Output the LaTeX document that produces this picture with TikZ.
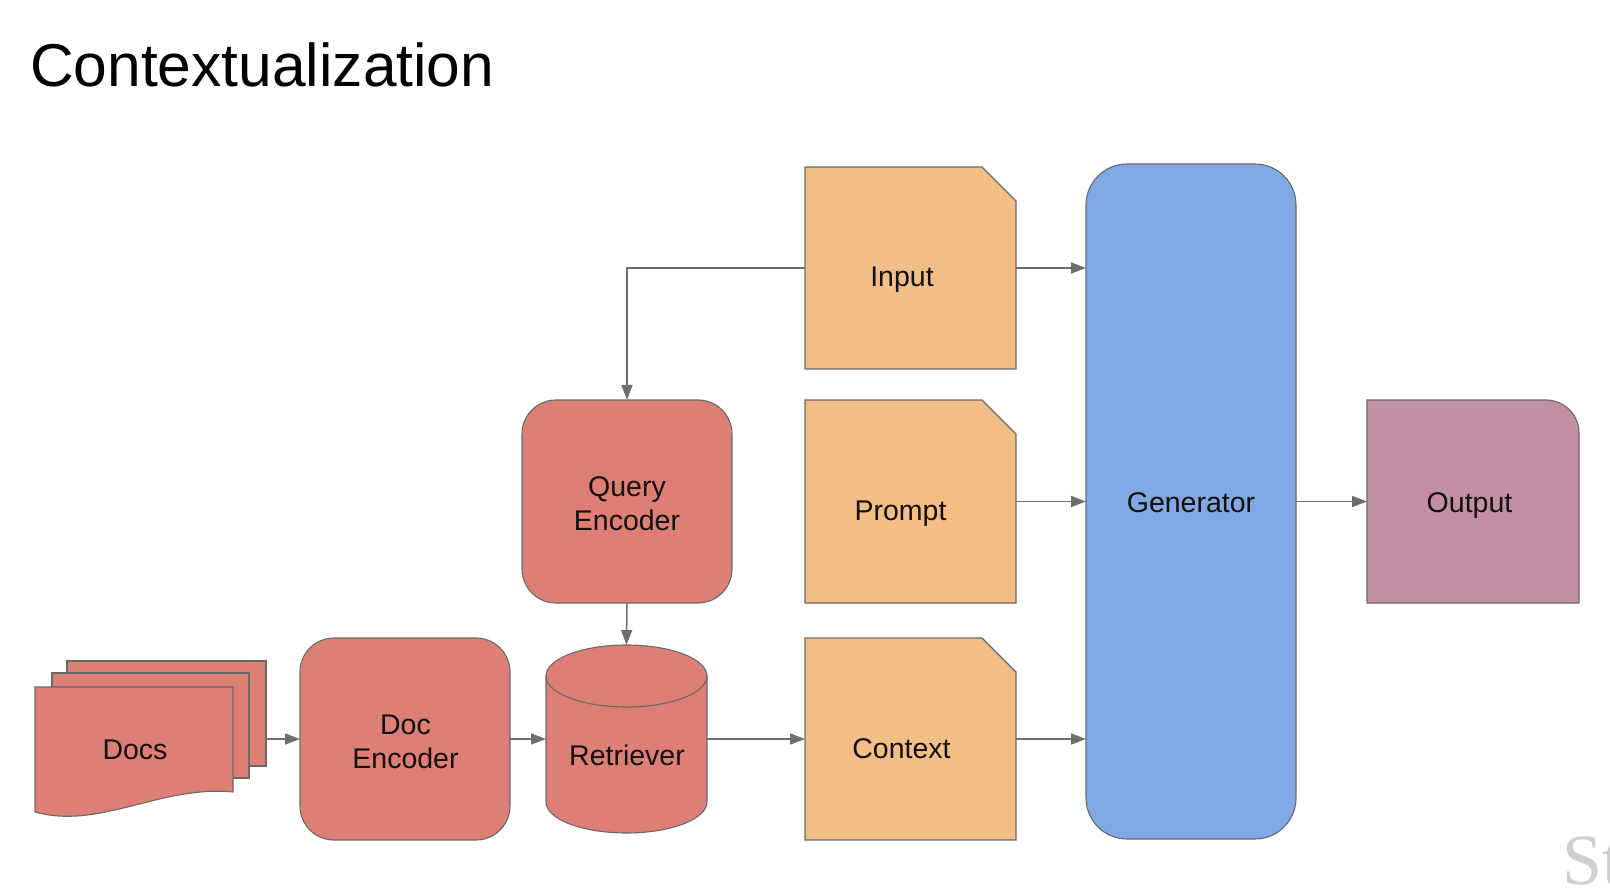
\documentclass[tikz,border=0pt]{standalone}
\usepackage{fontspec}
\setmainfont{Liberation Sans}
\newfontfamily\serifwm{Liberation Serif}
\usetikzlibrary{arrows.meta}
\definecolor{redfill}{HTML}{DD7F74}
\definecolor{orangefill}{HTML}{F3BE86}
\definecolor{bluefill}{HTML}{7FA8E4}
\definecolor{mauvefill}{HTML}{C38FA4}
\definecolor{bordergray}{HTML}{6A6A6A}
\definecolor{arrowgray}{HTML}{6E6E6E}
\definecolor{txt}{HTML}{141010}
\definecolor{wm}{HTML}{CFCFCF}
\begin{document}
\begin{tikzpicture}[x=1pt,y=-1pt,
  geo/.style={inner sep=0pt, outer sep=0pt, draw=none},
  outline/.style={draw=bordergray, line width=1.1pt},
  lbl/.style={font=\fontsize{28.5}{34}\selectfont, text=txt, inner sep=0pt, anchor=base},
  lbltwo/.style={font=\fontsize{28.5}{34}\selectfont, text=txt, inner sep=0pt, anchor=center, align=center},
  arr/.style={draw=arrowgray, line width=1.5pt, -{Triangle[length=15pt,width=11pt]}}
]
\useasboundingbox (0,0) rectangle (1610,890);
\fill[white] (0,0) rectangle (1610,890);

% title
\node[anchor=base west, inner sep=0pt, text=black, font=\fontsize{60.5}{72}\selectfont] (title) at (30,87) {Contextualization};

% geometry nodes
\node[geo, minimum width=211pt, minimum height=202pt] (inp) at (910.5,268) {};
\node[geo, minimum width=211pt, minimum height=203pt] (prm) at (910.5,501.5) {};
\node[geo, minimum width=211pt, minimum height=202pt] (ctx) at (910.5,739) {};
\node[geo, minimum width=210pt, minimum height=675pt] (gen) at (1191,501.5) {};
\node[geo, minimum width=212pt, minimum height=203pt] (out) at (1473,501.5) {};
\node[geo, minimum width=210pt, minimum height=203pt] (qenc) at (627,501.5) {};
\node[geo, minimum width=210pt, minimum height=202pt] (denc) at (405,739) {};
\node[geo, minimum width=161pt, minimum height=188pt] (ret) at (626.5,739) {};
\node[geo, minimum width=199pt, minimum height=105pt] (dback) at (166.5,713.5) {};
\node[geo, minimum width=197pt, minimum height=105pt] (dmid) at (150.5,725.5) {};
\node[geo, minimum width=198pt, minimum height=125pt] (dfront) at (134,749.5) {};

% document shapes with cut corner
\foreach \n in {inp,prm,ctx}{
  \path[outline, fill=orangefill] (\n.south west) -- (\n.north west) -- ([xshift=-34pt]\n.north east) -- ([yshift=-34pt]\n.north east) -- (\n.south east) -- cycle;
}
% generator
\path[outline, fill=bluefill, rounded corners=41pt] (gen.south west) rectangle (gen.north east);
% output
\path[outline, fill=mauvefill] (out.south west) -- (out.north west) -- ([xshift=-33pt]out.north east) arc[start angle=90, end angle=0, radius=33pt] -- (out.south east) -- cycle;
% encoders
\path[outline, fill=redfill, rounded corners=34pt] (qenc.south west) rectangle (qenc.north east);
\path[outline, fill=redfill, rounded corners=34pt] (denc.south west) rectangle (denc.north east);
% retriever cylinder
\path[outline, fill=redfill] ([yshift=-31pt]ret.north west) -- ([yshift=31pt]ret.south west) arc[start angle=180, end angle=360, x radius=80.5pt, y radius=31pt] -- ([yshift=-31pt]ret.north east) arc[start angle=0, end angle=180, x radius=80.5pt, y radius=31pt] -- cycle;
\draw[outline] ([yshift=-31pt]ret.north west) arc[start angle=180, end angle=360, x radius=80.5pt, y radius=31pt];
% docs stack
\path[outline, fill=redfill] (dback.south west) rectangle (dback.north east);
\path[outline, fill=redfill] (dmid.south west) rectangle (dmid.north east);
\path[outline, fill=redfill] (dfront.south west) -- (dfront.north west) -- (dfront.north east) -- ([yshift=20pt]dfront.south east) .. controls (160,785) and (100,830) .. (dfront.south west) -- cycle;

% labels
\node[lbl] (inp-t) at (902,287) {Input};
\node[lbl] (prm-t) at (900.5,520) {Prompt};
\node[lbl] (ctx-t) at (901.5,758.5) {Context};
\node[lbl] (gen-t) at (1191,512) {Generator};
\node[lbl] (out-t) at (1469.5,512) {Output};
\node[lbl] (ret-t) at (627,765.5) {Retriever};
\node[lbl] (docs-t) at (135,759) {Docs};
\node[lbltwo] (qenc-t) at (627,504) {Query\\Encoder};
\node[lbltwo] (denc-t) at (405.5,741.5) {Doc\\Encoder};

% connectors
\draw[arr] (inp.west) -| (qenc.north);
\draw[arr] (inp.east) -- (inp.east -| gen.west);
\draw[arr] (prm.east) -- (prm.east -| gen.west);
\draw[arr] (ctx.east) -- (ctx.east -| gen.west);
\draw[arr] (gen.east |- out.west) -- (out.west);
\draw[arr] (qenc.south) -- (ret.north);
\draw[arr] (ret.east) -- (ctx.west);
\draw[arr] (denc.east) -- (ret.west);
\draw[arr] (dback.east |- denc.west) -- (denc.west);

% watermark (cut off at the right edge, as in the reference)
\node[anchor=base west, inner sep=0pt, text=wm, font=\serifwm\fontsize{72}{80}\selectfont] (wm) at (1562,884) {St};
\end{tikzpicture}
\end{document}
